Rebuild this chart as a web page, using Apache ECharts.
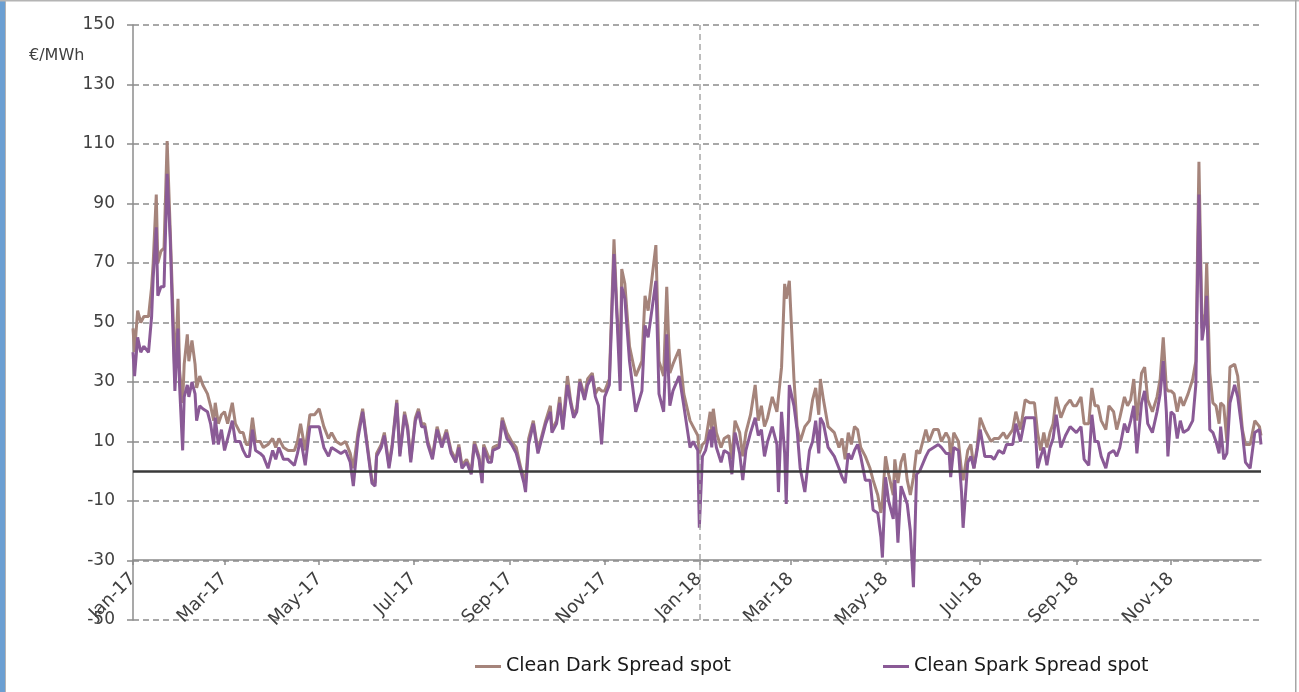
<!DOCTYPE html>
<html>
<head>
<meta charset="utf-8">
<title>Clean Dark / Spark Spread spot</title>
<script src="https://cdn.jsdelivr.net/npm/echarts@6/dist/echarts.min.js"></script>
<style>
	html, body { margin: 0; padding: 0; background: #fff; }
	#chart { width: 1299px; height: 692px; }
</style>
</head>
<body>
<div id="chart"></div>
<script>
// days counted from 1 Jan 2017
var days = [
	0, 1, 3, 5, 7, 10, 12, 13, 15, 16, 18, 20,
	22, 24, 26, 27, 29, 30, 32, 33, 35, 36, 38, 40,
	41, 43, 45, 48, 50, 52, 53, 55, 57, 59, 61, 64,
	66, 69, 71, 73, 75, 77, 79, 82, 84, 87, 90, 92,
	94, 97, 100, 104, 106, 108, 111, 114, 117, 120, 123, 126,
	128, 131, 134, 137, 140, 142, 145,
	148, 152, 154, 156, 157, 160, 162, 165, 167, 170, 172, 175,
	177, 179, 182, 184, 186, 188, 190, 193, 196, 199, 202, 205,
	208, 210, 212, 215, 218, 220, 223, 225, 226, 229, 231, 232,
	236, 238, 241, 244, 247, 250, 252, 253, 255, 258, 261, 266,
	269, 270, 273, 275, 277, 280, 282, 284, 286, 288, 291,
	293, 296, 298, 300, 302, 304, 307, 310, 312, 314, 315, 317,
	320, 324, 328, 330, 332, 337, 339, 342, 344, 346, 348, 352,
	355, 359, 361, 364, 365, 367, 369, 372, 373, 374, 376, 379,
	381, 384, 386, 388, 391, 393, 395, 398, 401, 403, 405, 407,
	409, 412, 415, 416, 418, 420, 421, 423, 426, 428, 430, 433, 436,
	438, 440, 442, 443, 445, 448, 452, 455, 457, 459, 461, 463,
	465, 467, 469, 472, 475, 477, 480, 482, 483, 485, 487, 490,
	491, 493, 495, 497, 499, 501, 503, 505, 507, 511, 513, 516,
	519, 521, 524, 526, 527, 529, 532, 534, 535, 538, 540, 542,
	544, 546, 549, 553, 555, 558, 561, 563, 567, 569, 572, 575, 578, 581,
	582, 583, 585, 587, 589, 591, 593, 595, 598, 601, 604, 606,
	608, 611, 613, 616, 618, 620, 622, 624, 627, 629, 632, 634,
	636, 639, 641, 643, 645, 647, 650, 652, 654, 657, 660, 662,
	664, 666, 667, 669, 671, 673, 675, 677, 680, 683, 685, 687,
	689, 691, 692, 694, 696, 698, 700, 701, 703, 705, 707, 710,
	712, 715, 717, 720, 723, 726, 727
];
var darkSpread = [
	48, 40, 54, 50, 52, 52, 62, 70, 93, 70, 74, 75,
	111, 81, 50, 31, 58, 34, 23, 36, 46, 37, 44, 36,
	28, 32, 29, 26, 22, 17, 23, 16, 19, 20, 16, 23,
	16, 13, 13, 9, 9, 18, 10, 10, 8, 9, 11, 8,
	11, 8, 7, 7, 10, 16, 7, 19, 19, 21, 15, 11,
	13, 10, 9, 10, 6, 1, 13,
	21, 5, -3, -4, 6, 9, 13, 2, 9, 24, 6, 20,
	15, 4, 18, 21, 16, 16, 10, 5, 15, 9, 14, 7,
	4, 9, 2, 4, 0, 10, 5, -3, 9, 5, 4, 8,
	9, 18, 13, 10, 8, 1, -2, -4, 11, 17, 7, 17,
	22, 14, 17, 25, 15, 32, 24, 19, 21, 31, 25,
	31, 33, 26, 28, 27, 27, 31, 78, 53, 37, 68, 63,
	42, 32, 37, 59, 54, 76, 37, 32, 62, 33, 36, 41,
	26, 17, 15, 12, 6, 9, 10, 20, 13, 21, 13, 8,
	11, 12, 4, 17, 13, 5, 13, 19, 29, 17, 22, 15,
	18, 25, 20, 20, 35, 63, 58, 64, 31, 15, 10, 15, 17,
	24, 28, 19, 31, 24, 15, 13, 8, 11, 4, 13, 9,
	15, 14, 8, 5, 1, -3, -8, -14, -10, 5, -1, -8,
	4, -4, 3, 6, -3, -8, -2, 7, 6, 14, 10, 14,
	14, 10, 13, 11, 4, 13, 10, 0, -3, 7, 9, 1,
	8, 18, 14, 10, 11, 11, 13, 11, 14, 20, 14, 24, 23, 23,
	23, 13, 7, 13, 8, 13, 16, 25, 18, 22, 24, 22,
	22, 25, 16, 16, 28, 22, 22, 17, 14, 22, 20, 14,
	18, 25, 22, 24, 31, 17, 33, 35, 24, 20, 25, 31,
	45, 28, 27, 27, 26, 20, 25, 22, 26, 31, 37, 104,
	48, 53, 70, 33, 23, 22, 16, 23, 22, 10, 35, 36,
	32, 14, 9, 9, 17, 15, 12
];
var sparkSpread = [
	40, 32, 45, 40, 42, 40, 52, 65, 82, 59, 62, 62,
	100, 78, 43, 27, 48, 29, 7, 25, 29, 25, 30, 26,
	17, 22, 21, 20, 16, 9, 18, 9, 14, 7, 11, 17,
	10, 10, 7, 5, 5, 14, 7, 6, 5, 1, 7, 4,
	8, 4, 4, 2, 6, 11, 2, 15, 15, 15, 8, 5,
	8, 7, 6, 7, 3, -5, 11,
	20, 4, -4, -5, 5, 8, 12, 1, 8, 23, 5, 19,
	14, 3, 17, 20, 15, 15, 9, 4, 14, 8, 13, 6,
	3, 8, 1, 3, -1, 9, 4, -4, 8, 3, 3, 7,
	8, 17, 11, 9, 6, 0, -4, -7, 9, 16, 6, 16,
	20, 13, 16, 23, 14, 29, 23, 18, 20, 30, 24,
	29, 32, 25, 22, 9, 25, 29, 73, 51, 27, 62, 58,
	37, 20, 27, 49, 45, 64, 26, 20, 46, 22, 27, 32,
	22, 8, 10, 7, -19, 5, 7, 14, 8, 15, 8, 3,
	7, 6, -1, 13, 6, -3, 7, 13, 18, 12, 14, 5,
	10, 15, 9, -7, 20, 6, -11, 29, 22, 14, 1, -7, 7,
	10, 17, 6, 18, 16, 8, 5, 1, -2, -4, 6, 4,
	7, 9, 5, -3, -3, -13, -14, -22, -29, -2, -10, -16,
	-3, -24, -5, -8, -11, -20, -39, -1, 0, 5, 7, 8,
	9, 8, 6, 6, -2, 8, 7, -7, -19, 3, 5, 1,
	7, 14, 5, 5, 4, 7, 6, 9, 9, 16, 10, 18, 18, 18,
	10, 1, 5, 8, 2, 8, 11, 19, 8, 12, 15, 14,
	13, 15, 4, 2, 19, 10, 10, 5, 1, 6, 7, 5,
	8, 16, 13, 17, 22, 6, 23, 27, 16, 13, 20, 26,
	37, 20, 5, 20, 19, 11, 17, 13, 14, 17, 29, 93,
	44, 51, 59, 14, 13, 10, 6, 15, 4, 6, 23, 29,
	25, 13, 3, 1, 13, 14, 9
];
// x axis ticks: first day of every second month
var monthTicks = [0, 59, 120, 181, 243, 304, 365, 424, 485, 546, 608, 669];
var monthLabels = ['Jan-17', 'Mar-17', 'May-17', 'Jul-17', 'Sep-17', 'Nov-17', 'Jan-18', 'Mar-18', 'May-18', 'Jul-18', 'Sep-18', 'Nov-18'];
var seriesNames = ['Clean Dark Spread spot', 'Clean Spark Spread spot'];

var darkData = [], sparkData = [];
for(var i = 0; i < days.length; i++) {
	darkData.push([days[i], darkSpread[i]]);
	sparkData.push([days[i], sparkSpread[i]]);
}

var font = 'DejaVu Sans';
var option = {
	animation: false,
	grid: {
		left: 133,
		right: 38,
		top: 25,
		bottom: 72
	},
	legend: [{
		data: [seriesNames[0]],
		left: 470,
		top: 652,
		icon: 'rect',
		itemWidth: 26,
		itemHeight: 3,
		textStyle: { fontFamily: font, fontSize: 19, color: '#1a1a1a' }
	}, {
		data: [seriesNames[1]],
		left: 878,
		top: 652,
		icon: 'rect',
		itemWidth: 26,
		itemHeight: 3,
		textStyle: { fontFamily: font, fontSize: 19, color: '#1a1a1a' }
	}],
	xAxis: {
		type: 'value',
		min: 0,
		max: 727,
		offset: -60,
		axisLine: {
			onZero: false,
			lineStyle: { color: '#8c8c8c', width: 1.5 }
		},
		axisTick: {
			customValues: monthTicks,
			length: 5,
			lineStyle: { color: '#8c8c8c', width: 1.5 }
		},
		axisLabel: {
			customValues: monthTicks,
			rotate: 45,
			margin: 16,
			fontFamily: font,
			fontSize: 18,
			color: '#404040',
			formatter: function(v) {
				return monthLabels[monthTicks.indexOf(v)];
			}
		},
		splitLine: { show: false }
	},
	yAxis: {
		type: 'value',
		min: -50,
		max: 150,
		interval: 20,
		axisLine: {
			show: true,
			lineStyle: { color: '#8c8c8c', width: 1.5 }
		},
		axisTick: {
			show: true,
			length: 6,
			lineStyle: { color: '#8c8c8c', width: 1.5 }
		},
		axisLabel: {
			margin: 18,
			fontFamily: font,
			fontSize: 17,
			color: '#404040'
		},
		splitLine: {
			lineStyle: { color: '#8c8c8c', width: 1.5, type: [6, 4] }
		}
	},
	graphic: [{
		type: 'rect',
		shape: { x: 0, y: 0, width: 5, height: 692 },
		style: { fill: '#6b9fd2' }
	}, {
		type: 'rect',
		shape: { x: 5, y: 0, width: 1, height: 692 },
		style: { fill: '#b4b4b4' }
	}, {
		type: 'rect',
		shape: { x: 0, y: 0, width: 1299, height: 1.5 },
		style: { fill: '#b4b4b4' }
	}, {
		type: 'rect',
		shape: { x: 1295, y: 0, width: 1.5, height: 692 },
		style: { fill: '#a6a6a6' }
	}, {
		type: 'text',
		left: 29,
		top: 48,
		style: { text: '€/MWh', fontFamily: font, fontSize: 16, fill: '#404040' }
	}],
	series: [{
		name: seriesNames[0],
		type: 'line',
		data: darkData,
		showSymbol: false,
		color: '#a5847b',
		lineStyle: { width: 3 },
		markLine: {
			silent: true,
			symbol: 'none',
			label: { show: false },
			data: [{
				xAxis: 365,
				lineStyle: { color: '#a6a6a6', width: 1.5, type: [6, 4] }
			}]
		}
	}, {
		name: seriesNames[1],
		type: 'line',
		data: sparkData,
		showSymbol: false,
		color: '#8a5a96',
		lineStyle: { width: 3 }
	}, {
		// zero line drawn over the series
		type: 'line',
		data: [],
		z: 10,
		markLine: {
			silent: true,
			symbol: 'none',
			label: { show: false },
			data: [{
				yAxis: 0,
				lineStyle: { color: '#3a3a3a', width: 2.5, type: 'solid' }
			}]
		}
	}]
};
var chart = echarts.init(document.getElementById('chart'));
chart.setOption(option);
</script>
</body>
</html>
